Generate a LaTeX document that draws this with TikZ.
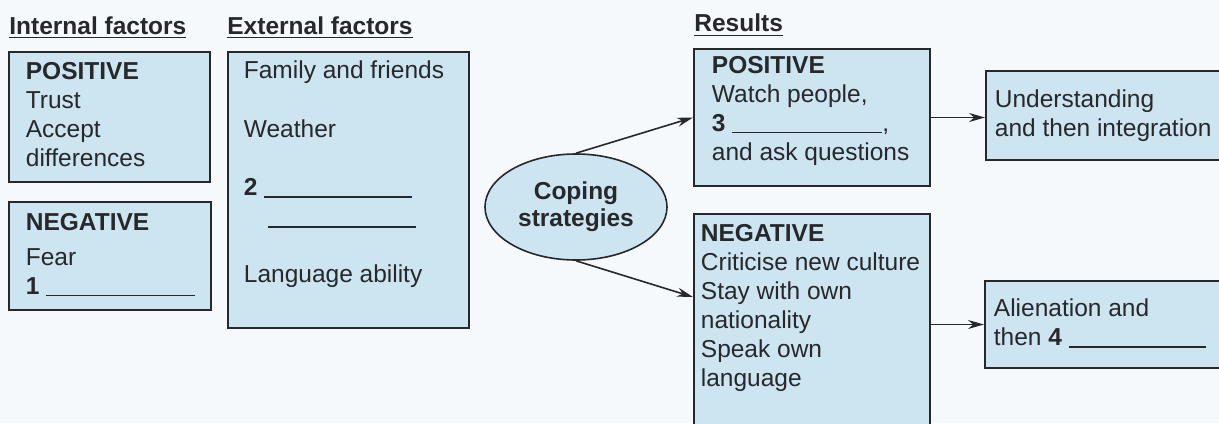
\documentclass[tikz,border=0pt]{standalone}
\usepackage{fontspec}
\setmainfont{Liberation Sans}
\usepackage{tikz}
\usetikzlibrary{shapes, arrows.meta, positioning}
\definecolor{boxblue}{RGB}{205,229,240}
\definecolor{paper}{RGB}{246,249,251}
\definecolor{ink}{RGB}{38,40,44}
\tikzstyle{block}=[draw=ink,line width=1pt,fill=boxblue,rectangle,anchor=north west,inner sep=0pt]
\tikzstyle{txt}=[align=left,inner sep=0pt,text=ink]
\tikzstyle{head}=[anchor=base west,inner sep=0pt,text=ink]
\tikzstyle{every node}=[font=\fontsize{12.25}{14.5}\selectfont]
\newcommand{\blank}[1]{\rule[-1pt]{#1}{0.7pt}}

\begin{document}
\begin{tikzpicture}[x=0.5pt,y=-0.5pt,>={Stealth[length=8pt,width=4.5pt]}]
    \useasboundingbox (0,0) rectangle (1219,423);
    \fill[paper] (0,0) rectangle (1219,423);
    \clip (0,0) rectangle (1219,423);
    \node[head] (hin) at (9,34) {\textbf{\underline{Internal factors}}};
    \node[head] (hex) at (227,34) {\textbf{\underline{External factors}}};
    \node[head] (hres) at (694,32) {\textbf{\underline{Results}}};
    \node[block, minimum width=100.5pt, minimum height=65pt] (ipos) at (8,51) {};
    \node[txt, below right=5.25pt and 8.75pt of ipos.north west] (ipostxt)
        {\textbf{POSITIVE}\\Trust\\Accept\\differences};
    \node[block, minimum width=101pt, minimum height=54pt] (ineg) at (8,201) {};
    \node[txt, below right=5.75pt and 8.75pt of ineg.north west] (inegtxt)
        {\textbf{NEGATIVE}\\[3pt]Fear\\\textbf{1} \blank{74.5pt}};
    \node[block, minimum width=120.5pt, minimum height=138pt] (ext) at (227,51) {};
    \node[txt, below right=4.75pt and 8.25pt of ext.north west] (exttxt)
        {Family and friends\\[15pt]Weather\\[14.5pt]\textbf{2} \blank{74pt}\\[0.5pt]
         \hspace*{12.25pt}\blank{74pt}\\[14pt]Language ability};
    \node[ellipse, draw=ink, line width=0.8pt, fill=boxblue, minimum width=91pt,
          minimum height=53pt, inner sep=0pt, align=center, text=ink] (cope) at (576,207)
        {\textbf{Coping}\\[-1pt]\textbf{strategies}};
    \node[block, minimum width=118pt, minimum height=68.5pt] (rpos) at (693,48) {};
    \node[txt, below right=3.75pt and 9.25pt of rpos.north west] (rpostxt)
        {\textbf{POSITIVE}\\Watch people,\\\textbf{3} \blank{75pt},\\and ask questions};
    \node[block, minimum width=118pt, minimum height=120pt] (rneg) at (693,213) {};
    \node[txt, below right=5.25pt and 3.75pt of rneg.north west] (rnegtxt)
        {\textbf{NEGATIVE}\\Criticise new culture\\Stay with own\\nationality\\Speak own\\language};
    \coordinate (negin) at ([yshift=-42pt]rneg.north west);
    \node[block, minimum width=130pt, minimum height=44.5pt] (und) at (985,70) {};
    \node[txt, below right=9.75pt and 4.75pt of und.north west] (undtxt)
        {Understanding\\and then integration};
    \node[block, minimum width=130pt, minimum height=43.5pt] (ali) at (984,280) {};
    \node[txt, below right=9.25pt and 4.75pt of ali.north west] (alitxt)
        {Alienation and\\then \textbf{4} \blank{68.5pt}};
    \draw[->, draw=ink, line width=0.8pt] (cope.north) -- (rpos.west);
    \draw[->, draw=ink, line width=0.8pt] (cope.south) -- (negin);
    \draw[->, draw=ink, line width=0.8pt] (rpos.east) -- (rpos.east -| und.west);
    \draw[->, draw=ink, line width=0.8pt] (ali.west -| rneg.east) -- (ali.west);
\end{tikzpicture}
\end{document}
